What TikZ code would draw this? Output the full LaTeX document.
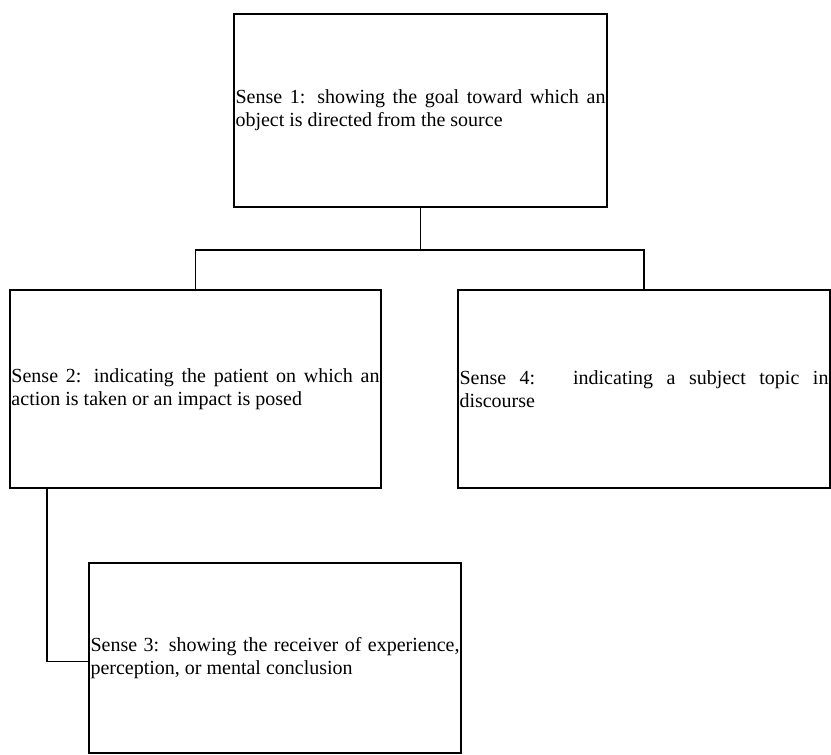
\documentclass[tikz,border=0pt]{standalone}
\usepackage{fontspec}
\setmainfont{Liberation Serif}
\newcommand{\natsp}{\spaceskip=0pt\xspaceskip=0pt\relax}
\newcommand{\jline}[2]{\makebox[#1][s]{\natsp #2}}
\begin{document}
\begin{tikzpicture}[x=1pt,y=-1pt,
  sensebox/.style={draw, line width=1.4pt, inner xsep=1.5pt, inner ysep=0pt,
    align=left, font=\fontsize{20}{23}\selectfont},
  conn/.style={line width=1.4pt}]
\useasboundingbox (0,0) rectangle (831,755);
\node[sensebox, minimum width=373pt, minimum height=193pt, text width=370pt] (b1) at (420.5,110.5)
  {\natsp\jline{370pt}{Sense 1: showing the goal toward which an}\\object is directed from the source};
\node[sensebox, minimum width=371pt, minimum height=198pt, text width=368pt] (b2) at (195.5,389)
  {\natsp\jline{368pt}{Sense 2: indicating the patient on which an}\\action is taken or an impact is posed};
\node[sensebox, minimum width=372pt, minimum height=198pt, text width=369pt] (b4) at (644,389)
  {\natsp\jline{369pt}{Sense 4:\hspace{14pt} indicating a subject topic in}\\discourse};
\node[sensebox, minimum width=372pt, minimum height=190pt, text width=369pt] (b3) at (275,658)
  {\natsp\jline{369pt}{Sense 3: showing the receiver of experience,}\\perception, or mental conclusion};
\coordinate (j) at (420.5,250);
\coordinate (d) at (47,488);
\draw[conn] (b1.south) -- (j);
\draw[conn] (b2.north) |- (j) -| (b4.north);
\draw[conn] (d) |- ([yshift=-3.5pt]b3.west);
\end{tikzpicture}
\end{document}
